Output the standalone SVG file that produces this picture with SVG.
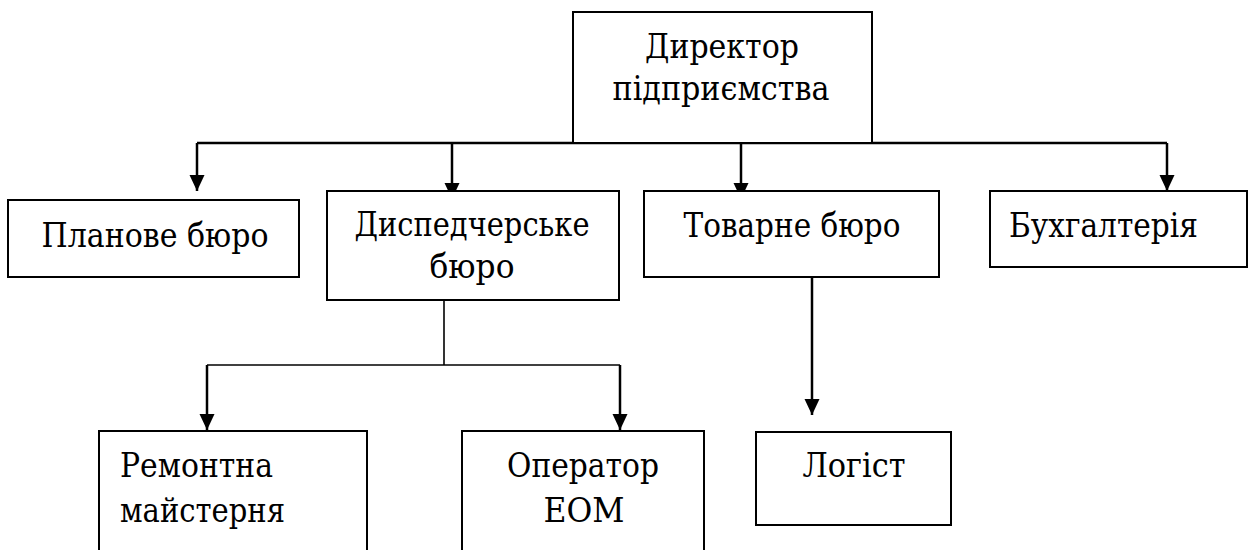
<svg xmlns="http://www.w3.org/2000/svg" width="1249" height="550" viewBox="0 0 1249 550">
<style>
  .box { fill: #fff; stroke: #000; stroke-width: 2; }
  text { font-family: 'DejaVu Serif', 'Liberation Serif', serif; font-size: 33px; fill: #000; }
  .c { text-anchor: middle; }
  .main { stroke: #000; stroke-width: 2.5; fill: none; }
  .sub { stroke: #000; stroke-width: 1.6; fill: none; }
</style>
<defs>
  <marker id="ah" viewBox="0 0 16 16" refX="16" refY="8" markerWidth="16" markerHeight="16" markerUnits="userSpaceOnUse" orient="auto">
    <path d="M0,0.5 L16,8 L0,15.5 z" fill="#000"/>
  </marker>
</defs>
<rect width="1249" height="550" fill="#fff"/>
<g id="connectors">
  <line class="main" x1="197" y1="143" x2="1167" y2="143"/>
  <line class="main" x1="197" y1="143" x2="197" y2="191" marker-end="url(#ah)"/>
  <line class="main" x1="452" y1="143" x2="452" y2="199" marker-end="url(#ah)"/>
  <line class="main" x1="741" y1="143" x2="741" y2="199" marker-end="url(#ah)"/>
  <line class="main" x1="1167" y1="143" x2="1167" y2="191" marker-end="url(#ah)"/>
  <line class="sub" x1="444" y1="300" x2="444" y2="365"/>
  <line class="sub" x1="207" y1="365" x2="620" y2="365"/>
  <line class="main" x1="207" y1="365" x2="207" y2="430" marker-end="url(#ah)"/>
  <line class="main" x1="620" y1="365" x2="620" y2="430" marker-end="url(#ah)"/>
  <line class="main" x1="812" y1="277" x2="812" y2="415" marker-end="url(#ah)"/>
</g>
<g id="director">
  <rect class="box" x="573" y="12" width="299" height="131"/>
  <text class="c" x="722" y="58" textLength="154" lengthAdjust="spacingAndGlyphs">Директор</text>
  <text class="c" x="721" y="100" textLength="217" lengthAdjust="spacingAndGlyphs">підприємства</text>
</g>
<g id="planove">
  <rect class="box" x="8" y="200" width="291" height="77"/>
  <text class="c" x="155" y="247" textLength="227" lengthAdjust="spacingAndGlyphs">Планове бюро</text>
</g>
<g id="dyspetcherske">
  <rect class="box" x="327" y="191" width="292" height="109"/>
  <text class="c" x="472" y="236" textLength="235" lengthAdjust="spacingAndGlyphs">Диспедчерське</text>
  <text class="c" x="472" y="278" textLength="85" lengthAdjust="spacingAndGlyphs">бюро</text>
</g>
<g id="tovarne">
  <rect class="box" x="644" y="191" width="295" height="86"/>
  <text class="c" x="792" y="237" textLength="217" lengthAdjust="spacingAndGlyphs">Товарне бюро</text>
</g>
<g id="bukhhalteriia">
  <rect class="box" x="990" y="191" width="257" height="76"/>
  <text x="1009" y="237" textLength="189" lengthAdjust="spacingAndGlyphs">Бухгалтерія</text>
</g>
<g id="remontna">
  <rect class="box" x="99" y="431" width="268" height="130"/>
  <text x="120" y="477" textLength="153" lengthAdjust="spacingAndGlyphs">Ремонтна</text>
  <text x="120" y="522" textLength="165" lengthAdjust="spacingAndGlyphs">майстерня</text>
</g>
<g id="operator">
  <rect class="box" x="462" y="431" width="242" height="130"/>
  <text class="c" x="583" y="477" textLength="152" lengthAdjust="spacingAndGlyphs">Оператор</text>
  <text class="c" x="584" y="522" textLength="81" lengthAdjust="spacingAndGlyphs">ЕОМ</text>
</g>
<g id="lohist">
  <rect class="box" x="756" y="432" width="195" height="93"/>
  <text class="c" x="854" y="477" textLength="103" lengthAdjust="spacingAndGlyphs">Логіст</text>
</g>
</svg>
